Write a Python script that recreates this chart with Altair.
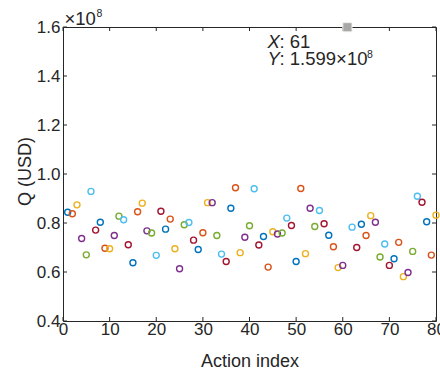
import altair as alt
import pandas as pd

# Action index 1..80, Q values in units of 1e8 USD
action_index = list(range(1, 81))
q_values = [
    0.844, 0.838, 0.874, 0.737, 0.670, 0.929, 0.771, 0.803, 0.697, 0.695,
    0.749, 0.828, 0.813, 0.711, 0.638, 0.846, 0.881, 0.768, 0.759, 0.668,
    0.848, 0.775, 0.816, 0.695, 0.613, 0.793, 0.802, 0.730, 0.692, 0.760,
    0.883, 0.883, 0.749, 0.673, 0.643, 0.860, 0.944, 0.679, 0.742, 0.789,
    0.940, 0.710, 0.745, 0.620, 0.764, 0.755, 0.759, 0.820, 0.790, 0.643,
    0.941, 0.675, 0.860, 0.786, 0.851, 0.797, 0.750, 0.703, 0.618, 0.627,
    1.599, 0.783, 0.700, 0.795, 0.749, 0.830, 0.803, 0.661, 0.714, 0.627,
    0.654, 0.721, 0.581, 0.598, 0.684, 0.909, 0.885, 0.805, 0.669, 0.832,
]
x_ticks = [0, 10, 20, 30, 40, 50, 60, 70, 80]
y_ticks = [0.4, 0.6, 0.8, 1.0, 1.2, 1.4, 1.6]
palette = ["#0072BD", "#D95319", "#EDB120", "#7E2F8E", "#77AC30", "#4DBEEE", "#A2142F"]
tip_x = [61]
tip_y = [1.599]

W, H = 373, 294
FONT = "Liberation Sans"
INK = "#262626"

df = pd.DataFrame({"idx": action_index, "q": q_values})
df["c"] = [(i - 1) % 7 for i in action_index]

xs = alt.Scale(domain=[0, 80], nice=False, zero=False)
ys = alt.Scale(domain=[0.4, 1.6], nice=False, zero=False)

xaxis = alt.Axis(
    values=x_ticks, format="d", title="Action index", domain=False, ticks=False, grid=False,
    labelFont=FONT, labelFontSize=17, labelColor=INK, labelPadding=0, labelOverlap=False,
    labelBound=False, labelFlush=False,
    titleFont=FONT, titleFontSize=18, titleColor=INK, titleFontWeight="normal",
    titleBaseline="alphabetic", titleY=45.5, titleX=W / 2)
yaxis = alt.Axis(
    values=y_ticks, format=".1f", title="Q (USD)", domain=False, ticks=False, grid=False,
    labelFont=FONT, labelFontSize=17, labelColor=INK, labelPadding=3, labelOverlap=False,
    labelBound=False, labelFlush=False,
    titleFont=FONT, titleFontSize=18, titleColor=INK, titleFontWeight="normal",
    titleBaseline="alphabetic", titleAngle=-90, titleX=-33, titleY=144, titleAlign="center")

X = lambda f: alt.X(f, scale=xs, axis=xaxis, title="Action index")
Y = lambda f: alt.Y(f, scale=ys, axis=yaxis, title="Q (USD)")

points = alt.Chart(df).mark_point(shape="circle", filled=False, size=36, strokeWidth=1.4, opacity=1).encode(
    x=X("idx:Q"),
    y=Y("q:Q"),
    color=alt.Color("c:N", scale=alt.Scale(domain=list(range(7)), range=palette), legend=None),
)

xt = pd.DataFrame({"t": x_ticks})
yt = pd.DataFrame({"t": y_ticks})
tick_style = dict(color=INK, strokeWidth=1)
bx = alt.Chart(xt).mark_rule(**tick_style).encode(x=X("t:Q"), y=alt.value(H), y2=alt.value(H - 4))
tx = alt.Chart(xt).mark_rule(**tick_style).encode(x=X("t:Q"), y=alt.value(0), y2=alt.value(4))
ly = alt.Chart(yt).mark_rule(**tick_style).encode(y=Y("t:Q"), x=alt.value(0), x2=alt.value(4))
ry = alt.Chart(yt).mark_rule(**tick_style).encode(y=Y("t:Q"), x=alt.value(W), x2=alt.value(W - 4))

tipdf = pd.DataFrame({"x": tip_x, "y": tip_y})
tip = alt.Chart(tipdf).mark_square(size=85, fill="#a8a8a8", stroke="#f4f4ec", strokeWidth=1, opacity=1).encode(
    x=X("x:Q"), y=Y("y:Q"))

def txt(s, x, y, size=18.5, style="normal"):
    return alt.Chart(pd.DataFrame({"s": [s]})).mark_text(
        align="left", baseline="alphabetic", font=FONT, fontSize=size, fontStyle=style, color=INK
    ).encode(text="s:N", x=alt.value(x), y=alt.value(y))

ann = [
    txt("\u00d710", 1.5, -2.5),
    txt("8", 33.5, -10.5, size=10.5),
    txt("X", 204.5, 21, style="italic"),
    txt(": 61", 216.5, 21),
    txt("Y", 204.5, 37.7, style="italic"),
    txt(": 1.599\u00d710", 216.5, 37.7),
    txt("8", 304, 31, size=10.5),
]

chart = alt.layer(points, bx, tx, ly, ry, tip, *ann).properties(
    width=W, height=H,
    padding={"left": 63, "top": 27, "right": 4, "bottom": 50},
    autosize=alt.AutoSizeParams(type="none"),
    background="white",
).configure_view(stroke=INK, strokeWidth=1)

chart.save("out.html", embed_options={"renderer": "svg", "actions": False})
